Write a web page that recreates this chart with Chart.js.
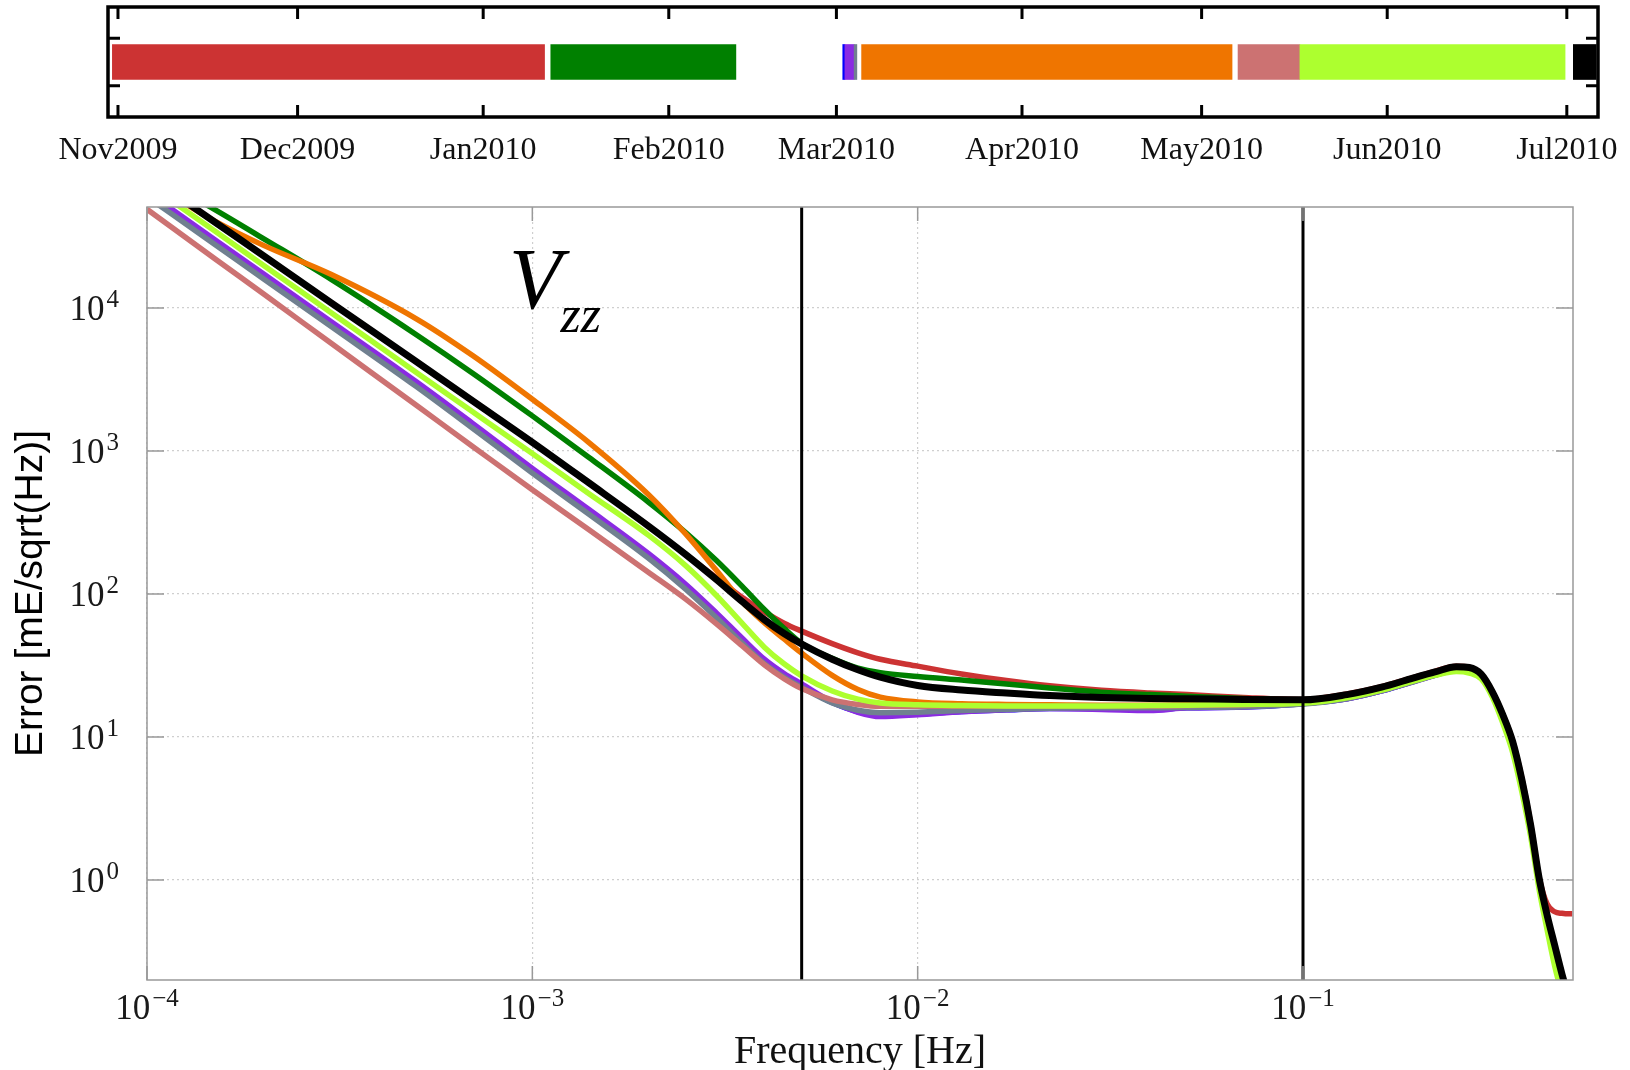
<!DOCTYPE html>
<html>
<head>
<meta charset="utf-8">
<title>Vzz error spectra</title>
<script src="https://cdn.jsdelivr.net/npm/chart.js@4.4.1/dist/chart.umd.min.js"></script>
<style>
  html, body { margin: 0; padding: 0; background: #fff; }
  #wrap { position: relative; width: 1630px; height: 1070px; }
  #strip { position: absolute; left: 0; top: 0; }
  #spectra { position: absolute; left: 0; top: 170px; }
</style>
</head>
<body>
<div id="wrap">
  <canvas id="strip" width="1630" height="180"></canvas>
  <canvas id="spectra" width="1630" height="900"></canvas>
</div>
<script>
// periods (time order) and their colours
const seriesNames = ['Nov-Jan', 'Jan-Feb', 'Mar a', 'Mar b', 'Mar c', 'Mar-May', 'May', 'May-Jun', 'Jul'];
const seriesColors = ['#cc3333', '#008000', '#0000ff', '#8a2be2', '#708090', '#ef7500', '#cc7272', '#adff2f', '#000000'];

const periodStart = ['2009-10-31T01:30', '2010-01-12T07:00', '2010-03-02T01:30', '2010-03-02T10:00', '2010-03-03T23:00',
                     '2010-03-05T05:00', '2010-05-07T02:00', '2010-05-17T10:00', '2010-07-02T02:00'];
const periodEnd = ['2010-01-11T06:00', '2010-02-12T05:00', '2010-03-02T10:00', '2010-03-03T23:00', '2010-03-04T10:00',
                   '2010-05-06T02:00', '2010-05-17T10:00', '2010-06-30T17:00', '2010-07-05T22:00'];
const stripRange = ['2009-10-30T08:00', '2010-07-06T05:00'];
const monthTicks = ['2009-11-01', '2009-12-01', '2010-01-01', '2010-02-01', '2010-03-01',
                    '2010-04-01', '2010-05-01', '2010-06-01', '2010-07-01'];
const monthLabels = ['Nov2009', 'Dec2009', 'Jan2010', 'Feb2010', 'Mar2010', 'Apr2010', 'May2010', 'Jun2010', 'Jul2010'];
const stripSideTicks = [0.5, 1.5];

// spectra: frequency [Hz] and error [mE/sqrt(Hz)] per period
const freq = [1e-4, 1.5e-4, 2e-4, 3e-4, 5e-4, 7e-4, 1e-3, 1.4e-3, 2e-3, 2.5e-3, 3e-3, 3.5e-3, 4e-3, 4.5e-3, 5e-3,
              6e-3, 7e-3, 8e-3, 1e-2, 1.3e-2, 1.7e-2, 2.2e-2, 3e-2, 4e-2, 5e-2, 7e-2, 0.1, 0.13, 0.16, 0.19, 0.22,
              0.25, 0.27, 0.29, 0.31, 0.33, 0.35, 0.37, 0.39, 0.41, 0.43, 0.45, 0.47, 0.49, 0.5];
const errRed = [85000, 39800, 23300, 10900, 4210, 2240, 1150, 600, 299, 189, 130, 95, 75, 62.5, 55,
                45, 38.8, 35, 31.3, 27.6, 24.8, 22.8, 21.2, 20.3, 19.8, 18.9, 18.3, 20, 22.5, 25.7, 28.8,
                31.2, 30.8, 27.6, 20.8, 14.4, 9.4, 5.1, 2.45, 1.05, 0.68, 0.6, 0.585, 0.58, 0.58];
const errGreen = [91000, 48700, 30700, 15900, 6500, 3500, 1760, 905, 440, 269, 172, 113.5, 78, 57.5, 45.1,
                  35.5, 30.3, 28.2, 26.5, 25, 23.5, 22, 20.6, 19.8, 19.3, 18.6, 18.2, 19.7, 22, 25.2, 28.2,
                  30.5, 30.2, 27, 20.3, 14, 9, 4.8, 2.3, 1.0, 0.55, 0.34, 0.21, 0.14, 0.12];
const errBlue = [62500, 28900, 16700, 7750, 2930, 1500, 728, 376, 185, 113, 71.5, 47.5, 33.8, 27, 22.9,
                 17.4, 15, 14.2, 14.5, 15.1, 15.5, 15.8, 15.8, 15.5, 16, 16.2, 17.1, 18.5, 21, 24.1, 27.1,
                 29.5, 29.4, 26.8, 20, 13.8, 8.9, 4.7, 2.25, 0.98, 0.54, 0.33, 0.2, 0.14, 0.12];
const errPurple = [65000, 30000, 17400, 8050, 3050, 1560, 756, 391, 192, 117, 74, 49.2, 35, 27.8, 23.5,
                   17.6, 14.9, 13.9, 14.3, 15, 15.5, 15.8, 15.6, 15.3, 16, 16.2, 17.2, 18.5, 21, 24, 27,
                   29.5, 29.5, 26.8, 20, 13.8, 8.9, 4.7, 2.25, 0.98, 0.54, 0.33, 0.2, 0.14, 0.12];
const errSlate = [60000, 27770, 16080, 7440, 2817, 1440, 700, 362, 178, 108, 68.5, 45.6, 32.6, 26.1, 22.2,
                  17.3, 15.4, 14.8, 14.9, 15.3, 15.6, 15.9, 16, 16, 16.1, 16.3, 17, 18.5, 21, 24, 27,
                  29.2, 29, 26.8, 20, 13.8, 8.9, 4.7, 2.25, 0.98, 0.54, 0.33, 0.2, 0.14, 0.12];
const errOrange = [78000, 40500, 27500, 17200, 8400, 4650, 2300, 1150, 497, 263, 147, 88.3, 63, 48.5, 38.6,
                   27, 21.5, 19, 17.6, 17.1, 16.9, 16.8, 16.7, 16.7, 16.8, 17, 17.8, 19.3, 21.8, 24.8, 27.8,
                   30.2, 30, 27, 20.3, 14, 9, 4.8, 2.3, 1.0, 0.55, 0.34, 0.21, 0.14, 0.12];
const errRosy = [49000, 22100, 12600, 5680, 2085, 1076, 535, 282, 142, 92, 62, 43.5, 32, 25.6, 21.8,
                 18.2, 16.9, 16.4, 16.4, 16.4, 16.4, 16.4, 16.5, 16.5, 16.6, 16.8, 17.4, 19, 21.5, 24.6, 27.8,
                 30, 29.8, 27, 20.3, 14, 9, 4.8, 2.3, 1.0, 0.55, 0.34, 0.21, 0.14, 0.12];
const errLime = [74000, 34500, 20000, 9310, 3540, 1880, 960, 505, 258, 158, 98, 62.5, 42.5, 32.5, 26.8,
                 21, 18.4, 17.3, 16.8, 16.6, 16.5, 16.5, 16.5, 16.6, 16.7, 16.9, 17.2, 18.8, 21.3, 24.3, 27,
                 28.7, 28, 25.5, 19, 12.5, 7.8, 4.1, 2.0, 0.86, 0.45, 0.25, 0.16, 0.11, 0.1];
const errBlack = [85000, 39800, 23300, 10900, 4210, 2240, 1150, 600, 299, 189, 126.5, 88.8, 66.2, 52.9, 44.7,
                  35, 29.5, 26.2, 22.9, 21.3, 20.3, 19.5, 18.9, 18.6, 18.5, 18.3, 18.2, 19.8, 22.3, 25.5, 28.5,
                  31, 30.6, 27.5, 20.7, 14.3, 9.3, 5.0, 2.4, 1.03, 0.57, 0.35, 0.22, 0.15, 0.13];
const errSeries = [errRed, errGreen, errBlue, errPurple, errSlate, errOrange, errRosy, errLime, errBlack];

const markerFreqs = [0.005, 0.1];
const xTickPowers = [-4, -3, -2, -1];
const yTickPowers = [0, 1, 2, 3, 4];
const vzzAnchor = [8.7e-4, 1e4];

// ---- helpers ----
const t0 = Date.parse('2009-11-01T00:00Z');
const toDay = s => (Date.parse((s.length === 10 ? s + 'T00:00' : s) + 'Z') - t0) / 864e5;

const serif = "'Liberation Serif', 'Times New Roman', serif";

// ---- strip of periods ----
const stripFrame = {
  id: 'stripFrame',
  afterDraw(chart) {
    const {ctx, chartArea: a, scales: {x, y}} = chart;
    ctx.save();
    ctx.strokeStyle = '#000';
    ctx.lineWidth = 3;
    ctx.beginPath();
    x.ticks.forEach(t => {
      const px = x.getPixelForValue(t.value);
      ctx.moveTo(px, a.top); ctx.lineTo(px, a.top + 12);
      ctx.moveTo(px, a.bottom); ctx.lineTo(px, a.bottom - 12);
    });
    stripSideTicks.forEach(v => {
      const py = y.getPixelForValue(v);
      ctx.moveTo(a.left, py); ctx.lineTo(a.left + 12, py);
      ctx.moveTo(a.right, py); ctx.lineTo(a.right - 12, py);
    });
    ctx.stroke();
    ctx.lineWidth = 3.5;
    ctx.strokeRect(a.left, a.top, a.right - a.left, a.bottom - a.top);
    ctx.restore();
  }
};

new Chart(document.getElementById('strip'), {
  type: 'bar',
  data: {
    datasets: [{
      label: 'periods',
      data: periodStart.map((s, i) => ({x: [toDay(s), toDay(periodEnd[i])], y: 1})),
      backgroundColor: seriesColors,
      borderWidth: 0,
      barThickness: 35
    }]
  },
  options: {
    indexAxis: 'y',
    responsive: false,
    animation: false,
    layout: {padding: {left: 108, right: 32, top: 7, bottom: 0}},
    plugins: {legend: {display: false}, tooltip: {enabled: false}},
    scales: {
      x: {
        type: 'linear',
        position: 'bottom',
        min: toDay(stripRange[0]),
        max: toDay(stripRange[1]),
        grid: {display: false},
        border: {display: false},
        afterBuildTicks: axis => { axis.ticks = monthTicks.map(m => ({value: toDay(m)})); },
        afterFit: axis => { axis.height = 63; },
        ticks: {
          autoSkip: false,
          maxRotation: 0,
          padding: 6,
          color: '#111',
          font: {family: serif, size: 32},
          callback: (v, i) => monthLabels[i]
        }
      },
      y: {
        type: 'linear',
        min: 0.07,
        max: 1.93,
        grid: {display: false},
        border: {display: false},
        ticks: {display: false},
        afterFit: axis => { axis.width = 0; }
      }
    }
  },
  plugins: [stripFrame]
});

// ---- error spectra ----
// "10" with a raised exponent, as on the original axes
function drawPower(ctx, px, baseline, p, align) {
  const exp = p < 0 ? '\u2212' + (-p) : String(p);
  ctx.font = '35px ' + serif;
  const wb = ctx.measureText('10').width;
  ctx.font = '25px ' + serif;
  const we = ctx.measureText(exp).width;
  const total = wb + 2 + we;
  const x0 = align === 'center' ? px - total / 2 : px - total;
  ctx.font = '35px ' + serif;
  ctx.fillText('10', x0, baseline);
  ctx.font = '25px ' + serif;
  ctx.fillText(exp, x0 + wb + 2, baseline - 13);
}

const spectraFrame = {
  id: 'spectraFrame',
  afterDraw(chart) {
    const {ctx, chartArea: a, scales: {x, y}} = chart;
    ctx.save();
    ctx.strokeStyle = '#999';
    ctx.lineWidth = 1.5;
    ctx.beginPath();
    x.ticks.forEach(t => {
      const px = x.getPixelForValue(t.value);
      ctx.moveTo(px, a.bottom); ctx.lineTo(px, a.bottom - 14);
      ctx.moveTo(px, a.top); ctx.lineTo(px, a.top + 14);
    });
    y.ticks.forEach(t => {
      const py = y.getPixelForValue(t.value);
      ctx.moveTo(a.left, py); ctx.lineTo(a.left + 17, py);
      ctx.moveTo(a.right, py); ctx.lineTo(a.right - 17, py);
    });
    ctx.stroke();
    ctx.strokeRect(a.left, a.top, a.right - a.left, a.bottom - a.top);

    // tick labels
    ctx.fillStyle = '#1a1a1a';
    ctx.textBaseline = 'alphabetic';
    ctx.textAlign = 'left';
    xTickPowers.forEach(p => drawPower(ctx, x.getPixelForValue(Math.pow(10, p)), a.bottom + 39, p, 'center'));
    yTickPowers.forEach(p => drawPower(ctx, a.left - 28, y.getPixelForValue(Math.pow(10, p)) + 12, p, 'right'));

    // V_zz label
    const vx = x.getPixelForValue(vzzAnchor[0]);
    const vy = y.getPixelForValue(vzzAnchor[1]);
    ctx.fillStyle = '#000';
    ctx.font = 'italic 86px ' + serif;
    ctx.fillText('V', vx, vy);
    const w = ctx.measureText('V').width;
    ctx.font = 'italic 52px ' + serif;
    ctx.fillText('zz', vx + w - 1, vy + 24);
    ctx.restore();
  }
};

const n = seriesNames.length;
const datasets = errSeries.map((vals, i) => ({
  label: seriesNames[i],
  data: freq.map((f, j) => ({x: f, y: vals[j]})),
  borderColor: seriesColors[i],
  borderWidth: i === n - 1 ? 7 : 5.5,
  pointRadius: 0,
  cubicInterpolationMode: 'monotone',
  order: n - i
}));
markerFreqs.forEach(f => datasets.push({
  label: 'band ' + f,
  data: [{x: f, y: 0.1}, {x: f, y: 1e5}],
  borderColor: '#000',
  borderWidth: 3,
  pointRadius: 0,
  order: 0
}));

new Chart(document.getElementById('spectra'), {
  type: 'line',
  data: {datasets: datasets},
  options: {
    responsive: false,
    animation: false,
    layout: {padding: {left: 0, right: 57, top: 37, bottom: 0}},
    plugins: {legend: {display: false}, tooltip: {enabled: false}},
    scales: {
      x: {
        type: 'logarithmic',
        min: 1e-4,
        max: 0.502,
        grid: {color: '#cfcfcf', lineWidth: 1.2, drawTicks: false},
        border: {display: false, dash: [2, 3]},
        afterBuildTicks: axis => { axis.ticks = xTickPowers.map(p => ({value: Math.pow(10, p)})); },
        afterFit: axis => { axis.height = 90; },
        ticks: {display: false},
        title: {
          display: true,
          text: 'Frequency [Hz]',
          color: '#111',
          font: {family: serif, size: 40, lineHeight: 0.9},
          padding: {top: 0, bottom: 0}
        }
      },
      y: {
        type: 'logarithmic',
        min: 0.2,
        max: 50800,
        grid: {color: '#cfcfcf', lineWidth: 1.2, drawTicks: false},
        border: {display: false, dash: [2, 3]},
        afterBuildTicks: axis => { axis.ticks = yTickPowers.map(p => ({value: Math.pow(10, p)})); },
        afterFit: axis => { axis.width = 147; },
        ticks: {display: false},
        title: {
          display: true,
          text: 'Error [mE/sqrt(Hz)]',
          color: '#000',
          font: {family: "'Liberation Sans', Arial, sans-serif", size: 39},
          padding: {top: 8, bottom: 0}
        }
      }
    }
  },
  plugins: [spectraFrame]
});
</script>
</body>
</html>
